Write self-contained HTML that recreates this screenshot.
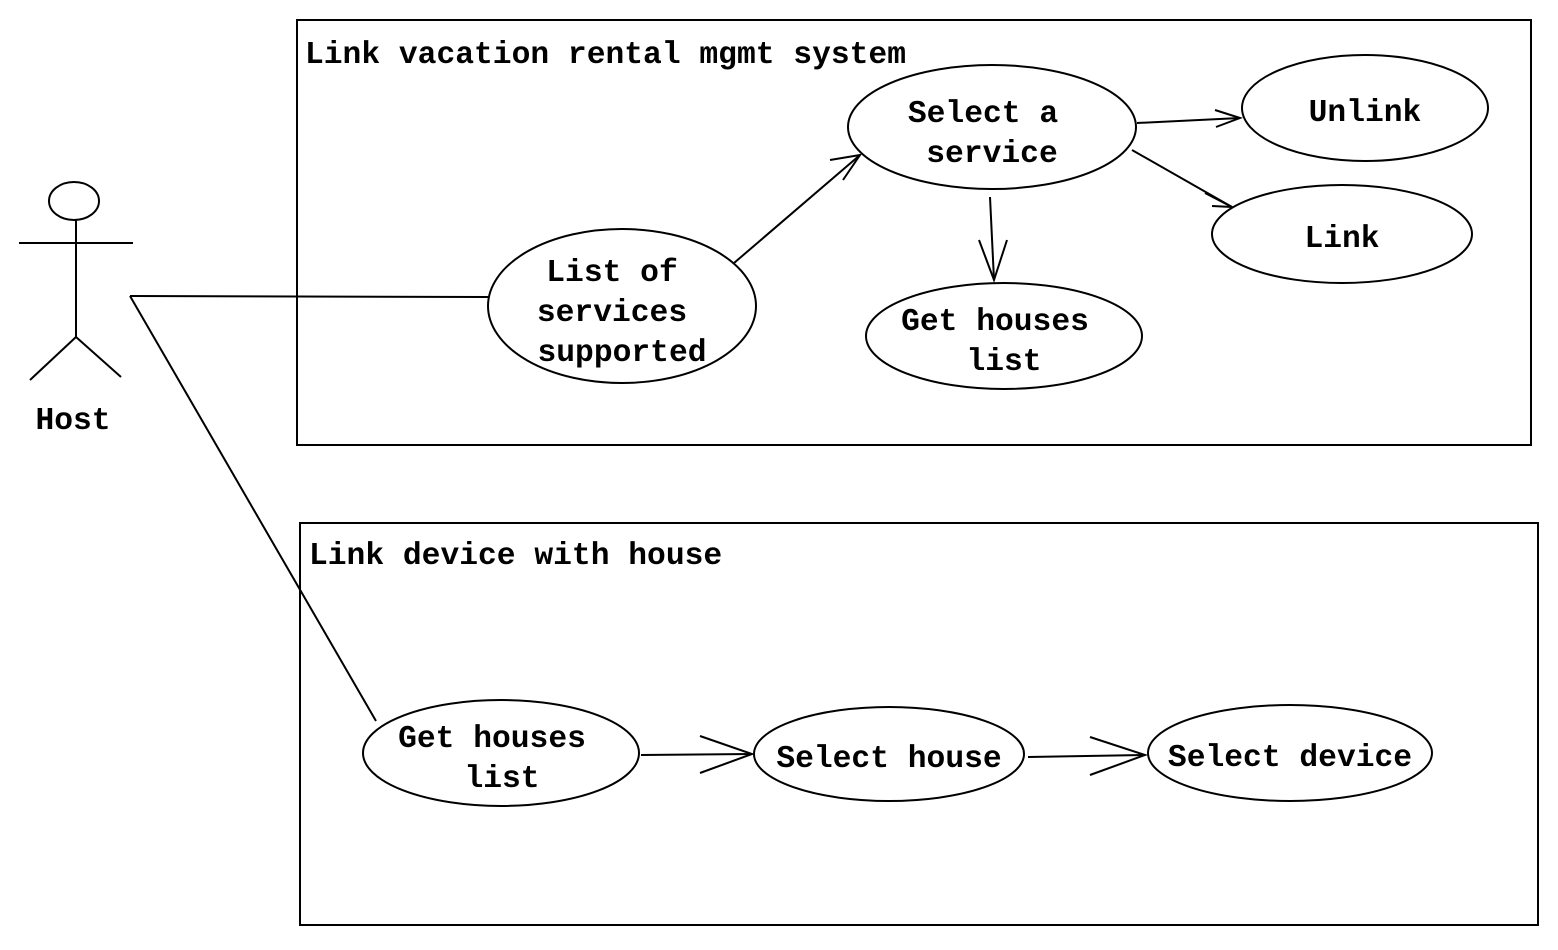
<!DOCTYPE html>
<html><head><style>
html,body{margin:0;padding:0;background:#fff}
svg text{font-family:"Liberation Mono","DejaVu Sans Mono",monospace;font-size:31.3px;font-weight:bold;fill:#000}
</style></head><body>
<svg width="1558" height="945" viewBox="0 0 1558 945" xmlns="http://www.w3.org/2000/svg">
<g fill="none" stroke="#000" stroke-width="2">
<rect x="297" y="20" width="1234" height="425"/>
<rect x="300" y="523" width="1238" height="402"/>
<ellipse cx="74" cy="201" rx="25" ry="19"/>
<line x1="19" y1="243" x2="133" y2="243"/>
<line x1="76" y1="220" x2="76" y2="337"/>
<line x1="76" y1="337" x2="30" y2="380"/>
<line x1="76" y1="337" x2="121" y2="377"/>
<ellipse cx="622" cy="306" rx="134" ry="77"/>
<ellipse cx="992" cy="127" rx="144" ry="62"/>
<ellipse cx="1365" cy="108" rx="123" ry="53"/>
<ellipse cx="1342" cy="234" rx="130" ry="49"/>
<ellipse cx="1004" cy="336" rx="138" ry="53"/>
<ellipse cx="501" cy="753" rx="138" ry="53"/>
<ellipse cx="889" cy="754" rx="135" ry="47"/>
<ellipse cx="1290" cy="753" rx="142" ry="48"/>
<polyline points="130,296 488,297"/>
<polyline points="130,296 376,721"/>
<line x1="734" y1="263" x2="860" y2="155"/>
<polyline points="830,160 860,155 843,180"/>
<line x1="1137" y1="123" x2="1240" y2="118"/>
<polyline points="1215,110 1240,118 1216,127"/>
<line x1="1132" y1="150" x2="1232" y2="207"/>
<polyline points="1205,193 1232,207 1212,206"/>
<line x1="990" y1="197" x2="994" y2="280"/>
<polyline points="979,240 994,280 1007,240"/>
<line x1="641" y1="755" x2="752" y2="754"/>
<polyline points="700,736 752,754 700,773"/>
<line x1="1028" y1="757" x2="1145" y2="755"/>
<polyline points="1090,737 1145,755 1090,775"/>
</g>
<text x="305" y="63">Link vacation rental mgmt system</text>
<text x="309" y="564">Link device with house</text>
<text x="73" y="429" text-anchor="middle">Host</text>
<text x="612" y="281" text-anchor="middle">List of</text>
<text x="612" y="321" text-anchor="middle">services</text>
<text x="622" y="361" text-anchor="middle">supported</text>
<text x="983" y="122" text-anchor="middle">Select a</text>
<text x="992" y="162" text-anchor="middle">service</text>
<text x="1365" y="121" text-anchor="middle">Unlink</text>
<text x="1342" y="247" text-anchor="middle">Link</text>
<text x="995" y="330" text-anchor="middle">Get houses</text>
<text x="1004" y="370" text-anchor="middle">list</text>
<text x="492" y="747" text-anchor="middle">Get houses</text>
<text x="502" y="787" text-anchor="middle">list</text>
<text x="889" y="767" text-anchor="middle">Select house</text>
<text x="1290" y="766" text-anchor="middle">Select device</text>
</svg>
</body></html>
